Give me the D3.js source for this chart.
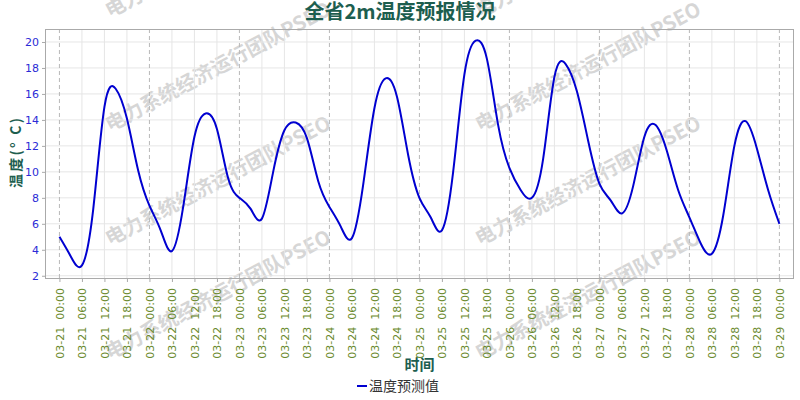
<!DOCTYPE html>
<html><head><meta charset="utf-8">
<script src="https://cdn.jsdelivr.net/npm/d3@7"></script>
<style>
html,body{margin:0;padding:0;background:#fff;}
svg{display:block;}
</style></head>
<body>
<svg id="chart" width="800" height="400"></svg>
<script>
// ---- data ----
const startTime = "2024-03-21T00:00:00Z";
const stepHours = 3;
const temps = [
  5.0, 3.5, 2.8, 7.1, 15.0, 16.4, 14.1, 10.1,
  7.4, 5.5, 3.9, 7.3, 12.7, 14.5, 13.3, 9.5,
  8.0, 7.15, 6.4, 10.0, 13.2, 13.8, 12.6, 9.3,
  7.3, 5.8, 4.9, 9.0, 14.9, 17.2, 15.8, 11.3,
  8.0, 6.5, 5.5, 10.0, 17.5, 20.1, 18.7, 13.6,
  10.3, 8.6, 8.0, 11.0, 17.3, 18.3, 16.2, 12.4,
  9.1, 7.8, 6.8, 8.9, 12.7, 13.6, 11.6, 8.6,
  6.5, 4.5, 3.7, 6.6, 12.0, 13.9, 11.8, 8.6,
  6.0
];
const yTicks = [2, 4, 6, 8, 10, 12, 14, 16, 18, 20];
const title = "全省2m温度预报情况";
const yLabel = "温度(° C)";
const xLabel = "时间";
const seriesName = "温度预测值";
const watermarkText = "电力系统经济运行团队PSEO";

// ---- layout ----
const W = 800, H = 400;
const m = {left: 45, right: 6, top: 29, bottom: 121};
const pw = W - m.left - m.right, ph = H - m.top - m.bottom;
const svg = d3.select("#chart");

const t0 = new Date(startTime);
const HOUR = 3600 * 1000;
const data = temps.map((v, i) => ({t: new Date(+t0 + i * stepHours * HOUR), v}));
const tEnd = data[data.length - 1].t;

const x = d3.scaleUtc()
  .domain([new Date(+t0 - 3.85 * HOUR), new Date(+tEnd + 3.9 * HOUR)])
  .range([m.left, m.left + pw]);
const y = d3.scaleLinear().domain([1.75, 21]).range([m.top + ph, m.top]);

// watermark
const wm = svg.append("g").attr("class", "watermark");
const wmStarts = [];
[110, 480].forEach(sx => [18, 132, 246, 360].forEach(sy => wmStarts.push([sx, sy])));
wm.selectAll("text").data(wmStarts).join("text")
  .attr("transform", d => `translate(${d[0]},${d[1]}) rotate(-28)`)
  .attr("font-family", "'Noto Sans CJK SC', sans-serif")
  .attr("font-weight", "bold")
  .attr("font-size", 20)
  .attr("fill", "#d6d6d6")
  .attr("textLength", 252)
  .attr("lengthAdjust", "spacingAndGlyphs")
  .text(watermarkText);

// grid
const g6 = d3.utcHour.every(6).range(t0, new Date(+tEnd + 1));
const grid = svg.append("g");
grid.selectAll("line.h").data(yTicks).join("line")
  .attr("x1", m.left).attr("x2", m.left + pw)
  .attr("y1", d => y(d)).attr("y2", d => y(d))
  .attr("stroke", "#e6e6e6").attr("stroke-width", 1);
grid.selectAll("line.v").data(g6).join("line")
  .attr("x1", d => x(d)).attr("x2", d => x(d))
  .attr("y1", m.top).attr("y2", m.top + ph)
  .attr("stroke", d => d.getUTCHours() === 0 ? "#b8b8b8" : "#e6e6e6")
  .attr("stroke-dasharray", d => d.getUTCHours() === 0 ? "4,3" : null)
  .attr("stroke-width", 1);

// frame
svg.append("rect")
  .attr("x", m.left + 0.5).attr("y", m.top + 0.5)
  .attr("width", pw - 1).attr("height", ph - 1)
  .attr("fill", "none").attr("stroke", "#aaaaaa").attr("stroke-width", 1);

// axes
const yAxis = svg.append("g").attr("transform", `translate(${m.left},0)`)
  .call(d3.axisLeft(y).tickValues(yTicks).tickSize(3).tickPadding(3));
yAxis.select(".domain").remove();
yAxis.selectAll("line").attr("stroke", "#aaaaaa");
yAxis.selectAll("text").attr("fill", "#2b2bd6")
  .attr("font-family", "'DejaVu Sans', sans-serif").attr("font-size", 11);

const fmt = d3.utcFormat("%m-%d  %H:%M");
const xAxis = svg.append("g").attr("transform", `translate(0,${m.top + ph})`)
  .call(d3.axisBottom(x).tickValues(g6).tickFormat(fmt).tickSize(3).tickPadding(3));
xAxis.select(".domain").remove();
xAxis.selectAll("line").attr("stroke", "#aaaaaa");
xAxis.selectAll("text")
  .attr("fill", "#6b8a2e")
  .attr("font-family", "'DejaVu Sans', sans-serif").attr("font-size", 11)
  .attr("text-anchor", "end")
  .attr("dy", "0.35em")
  .attr("transform", "translate(0,9) rotate(-90)")
  .attr("x", 0).attr("y", 0)
  .style("white-space", "pre");

// line
const line = d3.line().x(d => x(d.t)).y(d => y(d.v)).curve(d3.curveNatural);
svg.append("path").datum(data)
  .attr("d", line)
  .attr("fill", "none").attr("stroke", "#0000d0").attr("stroke-width", 2);

// title & labels
svg.append("text").attr("x", 400).attr("y", 19).attr("text-anchor", "middle")
  .attr("font-family", "'Noto Sans CJK SC', sans-serif").attr("font-weight", "bold")
  .attr("font-size", 20).attr("fill", "#1d5e4f").text(title);
svg.append("text")
  .attr("transform", `translate(21,${m.top + ph / 2 - 1}) rotate(-90)`)
  .attr("text-anchor", "middle")
  .attr("font-family", "'Noto Sans CJK SC', sans-serif").attr("font-weight", "bold")
  .attr("font-size", 14).attr("fill", "#1d5e4f")
  .attr("textLength", 70).attr("lengthAdjust", "spacing")
  .style("white-space", "pre")
  .text(yLabel);
svg.append("text").attr("x", m.left + pw / 2).attr("y", 370).attr("text-anchor", "middle")
  .attr("font-family", "'Noto Sans CJK SC', sans-serif").attr("font-weight", "bold")
  .attr("font-size", 15).attr("fill", "#1d5e4f").text(xLabel);

// legend
const lg = svg.append("g").attr("transform", "translate(357,386)");
lg.append("line").attr("x1", 0).attr("x2", 10).attr("y1", 0).attr("y2", 0)
  .attr("stroke", "#0000d0").attr("stroke-width", 2);
lg.append("text").attr("x", 12).attr("y", 5)
  .attr("font-family", "'Noto Sans CJK SC', sans-serif")
  .attr("font-size", 14).attr("fill", "#333333").text(seriesName);
</script>
</body></html>
